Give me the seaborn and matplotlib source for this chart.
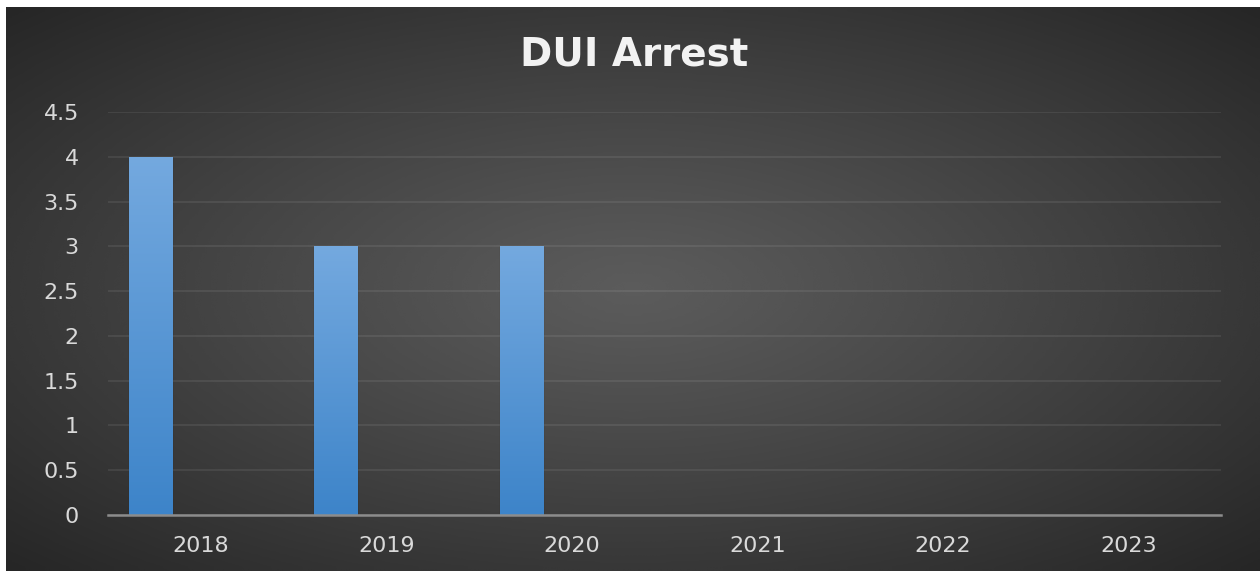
import numpy as np
import pandas as pd
import matplotlib.pyplot as plt
import seaborn as sns
from matplotlib.ticker import FuncFormatter, MultipleLocator
from matplotlib.colors import LinearSegmentedColormap

# datos del grafico
years = ["2018", "2019", "2020", "2021", "2022", "2023"]
arrests = [4, 3, 3, 0, 0, 0]
otra_serie = [0, 0, 0, 0, 0, 0]   # segunda serie vacia del grafico original
titulo = "DUI Arrest"

df = pd.DataFrame({
    "year": years * 2,
    "value": arrests + otra_serie,
    "series": ["Arrests"] * len(years) + ["Other"] * len(years),
})

sns.set_theme(style="dark")
plt.rcParams["font.family"] = ["DejaVu Sans"]

fig = plt.figure(figsize=(12.6, 5.71), dpi=100, facecolor="white")

# fondo con degradado radial
bg = fig.add_axes([6 / 1260, 0, 1 - 6 / 1260, 564 / 571], zorder=-2)
gx, gy = np.meshgrid(np.linspace(-1, 1, 400), np.linspace(-1, 1, 200))
r = np.clip(np.sqrt(gx ** 2 + gy ** 2) / np.sqrt(2), 0, 1)
claro, oscuro = 0.36, 0.15
fondo = claro - (claro - oscuro) * r ** 1.1
bg.imshow(fondo, cmap="gray", vmin=0, vmax=1, aspect="auto", interpolation="bicubic",
          extent=[0, 1, 0, 1])
bg.set_axis_off()

ax = fig.add_axes([108 / 1260, 56 / 571, 1113 / 1260, 403 / 571])
ax.set_facecolor("none")

sns.barplot(data=df, x="year", y="value", hue="series", hue_order=["Arrests", "Other"],
            order=years, palette=["#5b9bd5", "#ed7d31"], width=1.084, gap=0.572,
            dodge=True, legend=False, linewidth=0, ax=ax, zorder=3)

# degradado dentro de cada barra
grad = np.linspace(0, 1, 256).reshape(-1, 1)
cmap_barra = LinearSegmentedColormap.from_list("barra", ["#3d84c9", "#74a9df"])
for p in ax.patches:
    h = p.get_height()
    if h > 0:
        x0 = p.get_x()
        w = p.get_width()
        im = ax.imshow(grad, cmap=cmap_barra, aspect="auto", origin="lower",
                       extent=[x0, x0 + w, 0, h], zorder=4)
        im.set_clip_path(p)
        p.set_edgecolor((0, 0, 0, 0.18))
        p.set_linewidth(1.0)
ax.set_xlim(-0.5, len(years) - 0.5)
ax.set_ylim(0, 4.5)

ax.yaxis.set_major_locator(MultipleLocator(0.5))
ax.yaxis.set_major_formatter(FuncFormatter(lambda v, pos: f"{v:g}"))
ax.grid(axis="y", color="#ffffff", alpha=0.09, linewidth=1.2, zorder=0)
ax.grid(axis="x", visible=False)
for s in ["top", "right", "left"]:
    ax.spines[s].set_visible(False)
ax.spines["bottom"].set_color("#8c8c8c")
ax.spines["bottom"].set_linewidth(1.8)
ax.spines["bottom"].set_zorder(5)

ax.tick_params(axis="y", length=0, pad=21, labelsize=16, labelcolor="#d9d9d9")
ax.tick_params(axis="x", length=0, pad=15, labelsize=16, labelcolor="#d9d9d9")
ax.set_xlabel("")
ax.set_ylabel("")

fig.text(634 / 1260, 1 - 55 / 571, titulo, ha="center", va="center",
         fontsize=28, fontweight="bold", color="#f2f2f2")

fig.savefig("out.png", dpi=100, facecolor="white")
